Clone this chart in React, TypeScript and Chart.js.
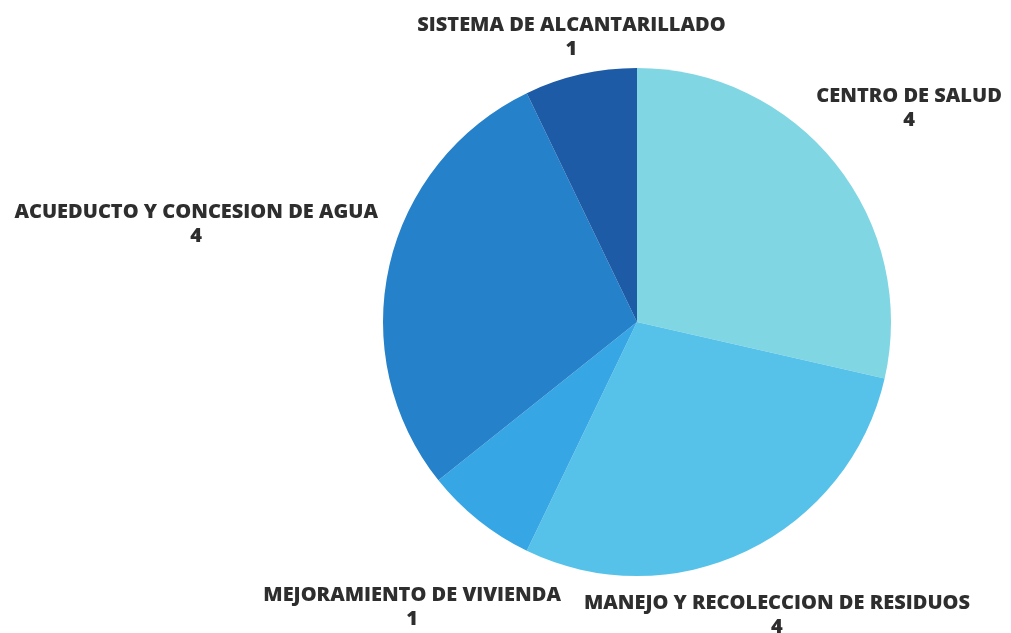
import React, { useEffect, useRef } from "react";
import { Chart, registerables } from "chart.js";

Chart.register(...registerables);

const categories = [
  "CENTRO DE SALUD",
  "MANEJO Y RECOLECCION DE RESIDUOS",
  "MEJORAMIENTO DE VIVIENDA",
  "ACUEDUCTO Y CONCESION DE AGUA",
  "SISTEMA DE ALCANTARILLADO",
];
const values = [4, 4, 1, 4, 1];
const sliceColors = ["#80d6e3", "#56c2ea", "#36a6e4", "#2681cb", "#1d5ba6"];

// radial distance of each label centre, as a multiple of the pie radius
const labelDistance = [1.37, 1.27, 1.42, 1.78, 1.16];

const labelPlugin = {
  id: "outsideLabels",
  afterDatasetsDraw(chart: any) {
    const ctx = chart.ctx;
    const meta = chart.getDatasetMeta(0);
    ctx.save();
    ctx.font = "800 20px 'Open Sans', sans-serif";
    ctx.fillStyle = "#2e2e2e";
    ctx.textAlign = "center";
    ctx.textBaseline = "middle";
    meta.data.forEach((arc: any, i: number) => {
      const mid = (arc.startAngle + arc.endAngle) / 2;
      const d = arc.outerRadius * labelDistance[i];
      const x = arc.x + Math.cos(mid) * d;
      const y = arc.y + Math.sin(mid) * d;
      ctx.fillText(chart.data.labels[i], x, y - 9);
      ctx.fillText(String(chart.data.datasets[0].data[i]), x, y + 15);
    });
    ctx.restore();
  },
};

export default function App() {
  const ref = useRef<HTMLCanvasElement>(null);
  useEffect(() => {
    if (!ref.current) return;
    const chart = new Chart(ref.current, {
      type: "pie",
      data: {
        labels: categories,
        datasets: [
          {
            data: values,
            backgroundColor: sliceColors,
            borderWidth: 0,
          },
        ],
      },
      options: {
        animation: false,
        responsive: true,
        maintainAspectRatio: false,
        layout: { padding: { left: 383, right: 120, top: 68, bottom: 57 } },
        plugins: {
          legend: { display: false },
          tooltip: { enabled: false },
        },
      },
      plugins: [labelPlugin],
    });
    return () => chart.destroy();
  }, []);
  return (
    <div style={{ position: "fixed", left: 0, top: 0, width: 1011, height: 633, background: "#ffffff" }}>
      <canvas ref={ref} />
    </div>
  );
}
